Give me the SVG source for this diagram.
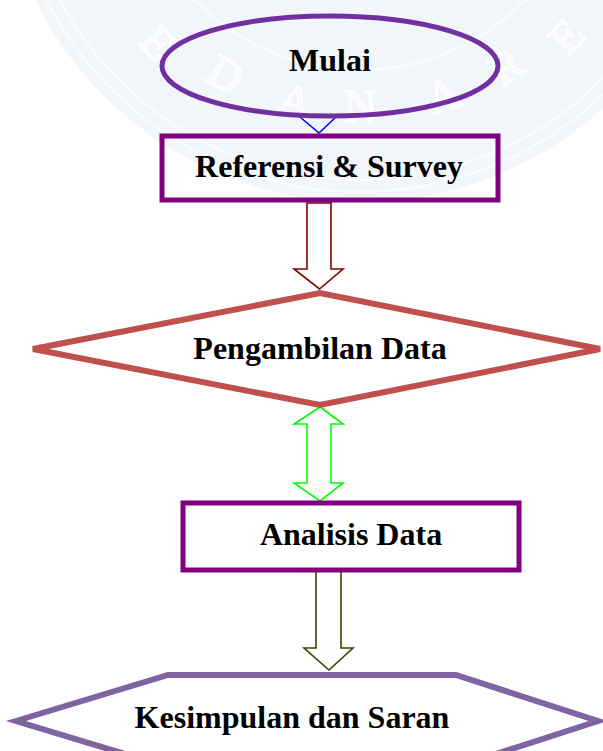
<svg xmlns="http://www.w3.org/2000/svg" width="603" height="751" viewBox="0 0 603 751">
<defs>
<style>
.lbl{font-family:"Liberation Serif","Times New Roman",serif;font-weight:bold;font-size:32px;fill:#000;text-anchor:middle}
.wm{font-family:"Liberation Serif","Times New Roman",serif;font-size:46px;fill:#f8fafd;stroke:#ffffff;stroke-width:1.5;text-anchor:middle}
.box{fill:#fff;stroke:#800080;stroke-width:5}
.blk{fill:none;stroke-width:1.6;stroke-linejoin:miter}
</style>
</defs>
<rect width="603" height="751" fill="#fff"/>
<g id="watermark">
<circle cx="360" cy="-160" r="362" fill="#f2f5fa"/>
<circle cx="360" cy="-160" r="352" fill="none" stroke="#fbfcfe" stroke-width="2"/>
<circle cx="360" cy="-160" r="340" fill="none" stroke="#fbfcfe" stroke-width="2"/>
<circle cx="360" cy="-160" r="230" fill="none" stroke="#fbfcfe" stroke-width="2"/>
<text class="wm" transform="translate(158,42) rotate(46)" y="16">E</text>
<text class="wm" transform="translate(226,74) rotate(30)" y="16">D</text>
<text class="wm" transform="translate(295.2,101) rotate(14)" y="16">A</text>
<text class="wm" transform="translate(360,106) rotate(0)" y="16">N</text>
<text class="wm" transform="translate(442.8,95) rotate(-18)" y="16">A</text>
<text class="wm" transform="translate(506,66) rotate(-33)" y="16">R</text>
<text class="wm" transform="translate(566,36) rotate(-48)" y="16">E</text>
</g>
<g id="connectors">
<polyline points="300,117 319,133 336,117" fill="none" stroke="#0000ff" stroke-width="1.6"/>
<polygon class="blk" stroke="#800000" fill="#fff" points="307,203 331,203 331,269 343,269 319.5,289 294,269 307,269"/>
<polygon class="blk" stroke="#00ff00" fill="#fff" stroke-width="2" points="320,407 343,424 331,424 331,483 343,483 320,501 294,483 307,483 307,424 294,424"/>
<polygon class="blk" stroke="#404000" fill="#fff" points="316,570 341,570 341,648 353,648 329,670 304,648 316,648"/>
</g>
<g id="mulai">
<ellipse cx="330" cy="66" rx="168" ry="50" fill="none" stroke="#7030a0" stroke-width="5"/>
<text class="lbl" x="330" y="71">Mulai</text>
</g>
<g id="referensi">
<rect class="box" x="162" y="136" width="336" height="64" fill-opacity="0"/>
<text class="lbl" x="329" y="177">Referensi &amp; Survey</text>
</g>
<g id="pengambilan">
<polygon points="33,349 320,293 600,349 320,405" fill="#fff" stroke="#c0504d" stroke-width="6" stroke-linejoin="miter"/>
<text class="lbl" x="320" y="359">Pengambilan Data</text>
</g>
<g id="analisis">
<rect class="box" x="183" y="503" width="336" height="67"/>
<text class="lbl" x="351" y="545">Analisis Data</text>
</g>
<g id="kesimpulan">
<polygon points="16,721 168,675 456,675 598,721 456,767 168,767" fill="#fff" stroke="#8064a2" stroke-width="6"/>
<text class="lbl" x="292" y="728">Kesimpulan dan Saran</text>
</g>
</svg>
